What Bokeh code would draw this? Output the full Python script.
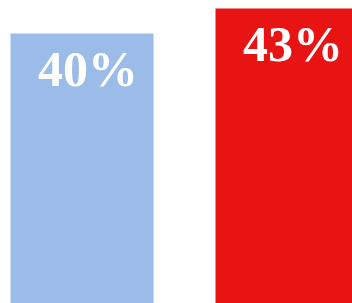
from bokeh.plotting import figure
from bokeh.models import Range1d, ColumnDataSource
from bokeh.core.properties import value
from bokeh.embed import file_html
from bokeh.resources import INLINE

categories = ["A", "B"]
values = [40, 43]
labels = ["40%", "43%"]
colors = ["#9BBBE9", "#E81313"]

xs = list(range(len(categories)))
src = ColumnDataSource(dict(x=xs, top=values, label=labels, color=colors))

p = figure(width=352, height=303, output_backend="svg", toolbar_location=None,
           x_range=Range1d(-0.3976, 1.3195), y_range=Range1d(7.6, 43.96),
           min_border=0, outline_line_color=None)
p.axis.visible = False
p.grid.visible = False
p.background_fill_color = "white"

p.vbar(x="x", top="top", bottom=0, width=0.6976, color="color", line_color=None, source=src)
p.text(x="x", y="top", text="label", source=src, text_color="white",
       text_font=value("Liberation Serif"), text_font_style="bold",
       text_font_size="50px", text_align="center", text_baseline="alphabetic",
       x_offset=6, y_offset=35)

open("out.html", "w").write(file_html(p, INLINE))
